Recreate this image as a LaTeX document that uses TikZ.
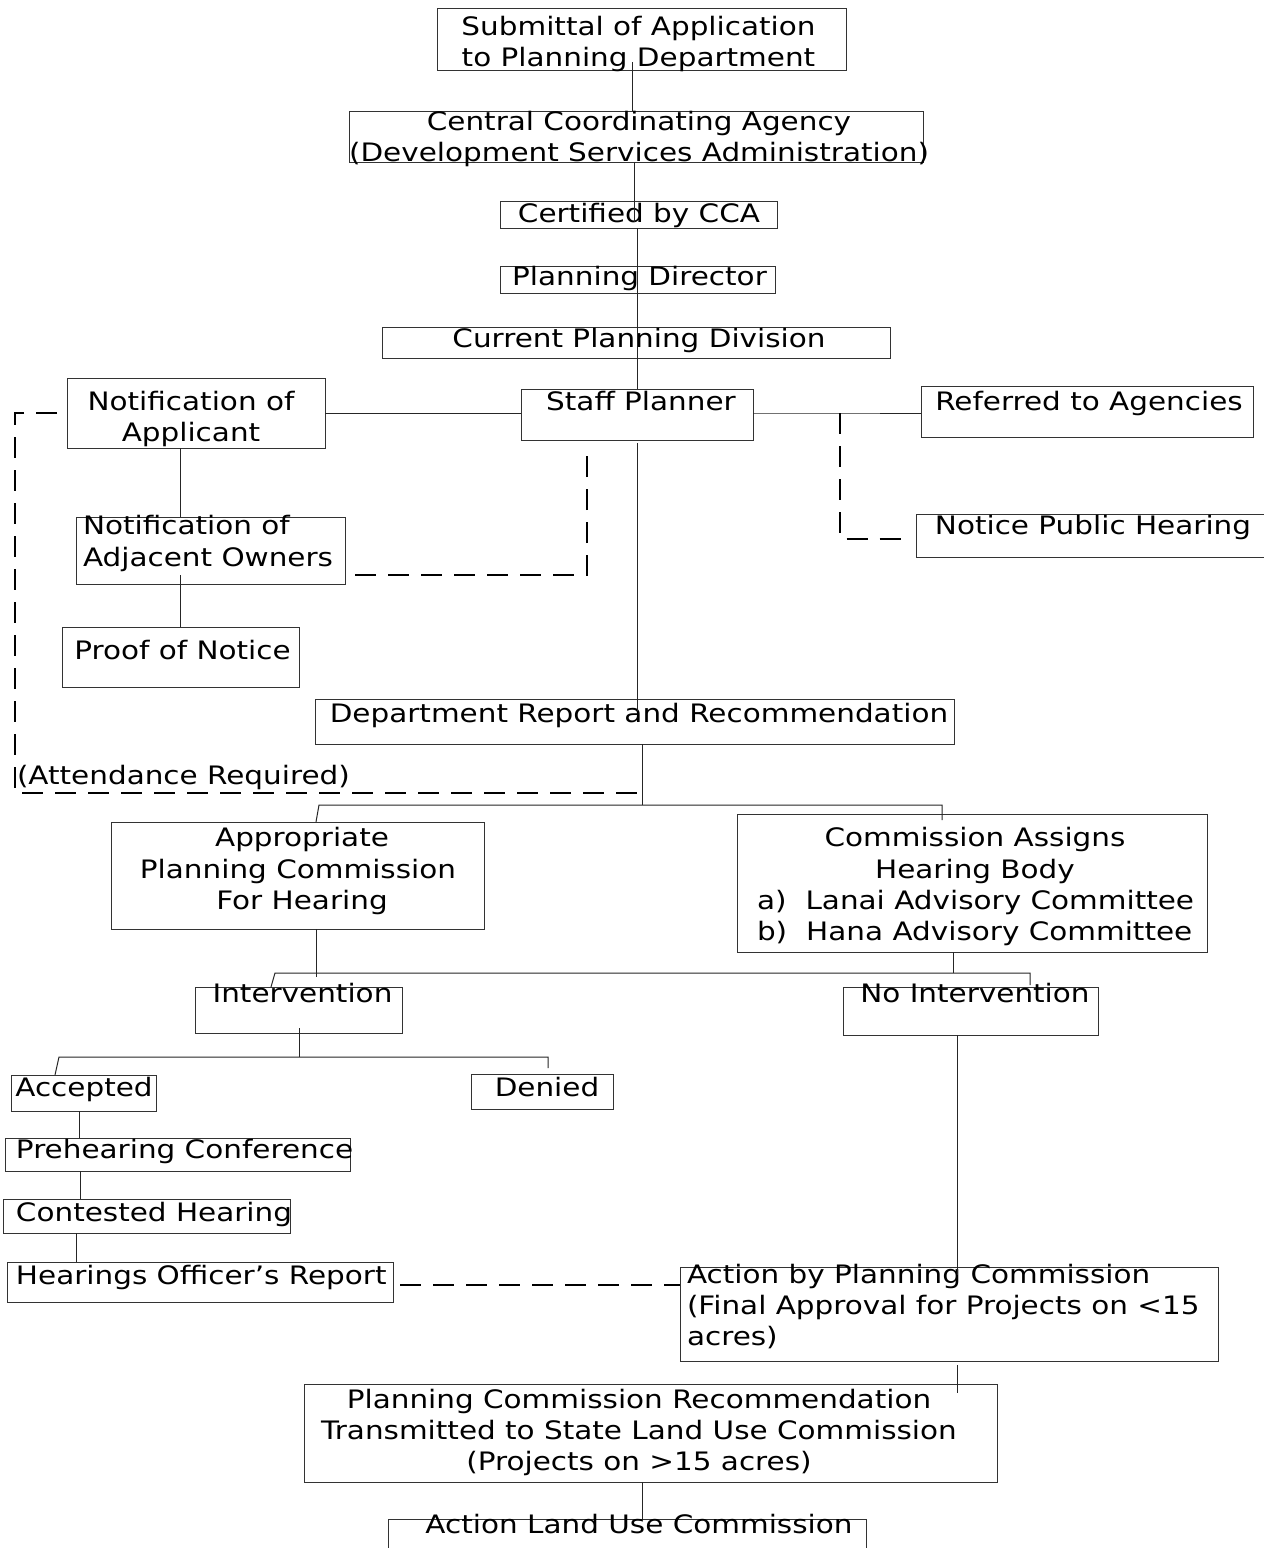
\documentclass[tikz,border=0pt]{standalone}
\usepackage{fontspec}
\setmainfont{DejaVu Sans}[FakeStretch=1.16]
\begin{document}
\begin{tikzpicture}[x=1pt,y=-1pt,
  box/.style={draw=black!80, line width=1pt, rectangle, inner sep=0pt, outer sep=0pt},
  lbl/.style={inner sep=0pt, outer sep=0pt, anchor=base, font=\fontsize{25.4}{31}\selectfont},
  lbll/.style={lbl, anchor=base west},
  con/.style={draw=black!85, line width=1pt},
  dsh/.style={draw=black, line width=2pt, dash pattern=on 21pt off 12pt}]
\clip (0,0) rectangle (1264,1548);
\fill[white] (0,0) rectangle (1264,1548);

% boxes
\node[box, minimum width=409, minimum height=62] (sub) at (641.5,39) {};
\node[box, minimum width=574, minimum height=51] (cca) at (636,136.5) {};
\node[box, minimum width=277, minimum height=27] (cert) at (638.5,214.5) {};
\node[box, minimum width=275, minimum height=27] (dir) at (637.5,279.5) {};
\node[box, minimum width=508, minimum height=31] (cpd) at (636,342.5) {};
\node[box, minimum width=232, minimum height=51] (staff) at (637,414.5) {};
\node[box, minimum width=258, minimum height=70] (noa) at (196,413) {};
\node[box, minimum width=332, minimum height=51] (ref) at (1087,411.5) {};
\node[box, minimum width=354, minimum height=43] (nph) at (1093,535.5) {};
\node[box, minimum width=269, minimum height=67] (adj) at (210.5,550.5) {};
\node[box, minimum width=237, minimum height=60] (proof) at (180.5,657) {};
\node[box, minimum width=639, minimum height=45] (dept) at (634.5,721.5) {};
\node[box, minimum width=373, minimum height=107] (apc) at (297.5,875.5) {};
\node[box, minimum width=470, minimum height=138] (cahb) at (972,883) {};
\node[box, minimum width=207, minimum height=46] (int) at (298.5,1010) {};
\node[box, minimum width=255, minimum height=48] (noint) at (970.5,1011) {};
\node[box, minimum width=145, minimum height=36] (acc) at (83.5,1093) {};
\node[box, minimum width=142, minimum height=35] (den) at (542,1091.5) {};
\node[box, minimum width=345, minimum height=33] (pre) at (177.5,1154.5) {};
\node[box, minimum width=287, minimum height=34] (con) at (146.5,1216) {};
\node[box, minimum width=386, minimum height=40] (hor) at (200,1282) {};
\node[box, minimum width=538, minimum height=94] (apcm) at (949,1314) {};
\node[box, minimum width=693, minimum height=98] (pcr) at (650.5,1433) {};
\node[box, minimum width=478, minimum height=51] (aluc) at (627,1544.5) {};

% texts
\node[lbl] (tsub1) at (638.5,35) {Submittal of Application};
\node[lbl] (tsub2) at (638.5,66) {to Planning Department};
\node[lbl] (tcca1) at (639,130) {Central Coordinating Agency};
\node[lbl] (tcca2) at (639,161) {(Development Services Administration)};
\node[lbl] (tcert) at (639,222) {Certified by CCA};
\node[lbl] (tdir) at (639.5,285) {Planning Director};
\node[lbl] (tcpd) at (639,347) {Current Planning Division};
\node[lbl] (tstaff) at (641,410) {Staff Planner};
\node[lbl] (tnoa1) at (191,410) {Notification of};
\node[lbl] (tnoa2) at (191,441) {Applicant};
\node[lbl] (tref) at (1089,410) {Referred to Agencies};
\node[lbl] (tnph) at (1093,534) {Notice Public Hearing};
\node[lbll] (tadj1) at (83,534) {Notification of};
\node[lbll] (tadj2) at (83,566) {Adjacent Owners};
\node[lbl] (tproof) at (182.5,659) {Proof of Notice};
\node[lbl] (tdept) at (639,722) {Department Report and Recommendation};
\node[lbll] (tatt) at (17,784) {(Attendance Required)};
\node[lbl] (tapc1) at (302,846) {Appropriate};
\node[lbl] (tapc2) at (298,878) {Planning Commission};
\node[lbl] (tapc3) at (302,909) {For Hearing};
\node[lbl] (tcahb1) at (975,846) {Commission Assigns};
\node[lbl] (tcahb2) at (975,878) {Hearing Body};
\node[lbll] (tcahb3) at (757,909) {a)\hspace{19pt}Lanai Advisory Committee};
\node[lbll] (tcahb4) at (757,940) {b)\hspace{19pt}Hana Advisory Committee};
\node[lbl] (tint) at (302.5,1002) {Intervention};
\node[lbl] (tnoint) at (975,1002) {No Intervention};
\node[lbl] (tacc) at (84,1096) {Accepted};
\node[lbl] (tden) at (547,1096) {Denied};
\node[lbll] (tpre) at (16,1158) {Prehearing Conference};
\node[lbll] (tcon) at (16,1221) {Contested Hearing};
\node[lbll] (thor) at (16,1284) {Hearings Officer’s Report};
\node[lbll] (tapcm1) at (687,1283) {Action by Planning Commission};
\node[lbll] (tapcm2) at (687,1314) {(Final Approval for Projects on <15};
\node[lbll] (tapcm3) at (687,1345) {acres)};
\node[lbl] (tpcr1) at (639,1408) {Planning Commission Recommendation};
\node[lbl] (tpcr2) at (639,1439) {Transmitted to State Land Use Commission};
\node[lbl] (tpcr3) at (639,1470) {(Projects on >15 acres)};
\node[lbl] (taluc) at (639,1533) {Action Land Use Commission};

% junction coordinates
\coordinate (b1) at (642,805);
\coordinate (b2) at (316,973);
\coordinate (b3) at (299,1057);
\coordinate (att) at (642,793);
\coordinate (attL) at (15,793);
\coordinate (rj) at (840,413);
\coordinate (dh) at (400,1285);

% solid connectors
\draw[con] ([yshift=8pt]632,0 |- sub.south) -- (632,0 |- cca.north);
\draw[con] (634,0 |- cca.south) -- ([yshift=6pt]634,0 |- cert.south);
\draw[con] (637,0 |- cert.south) -- (637,0 |- staff.north);
\draw[con] ([yshift=-3pt]637,0 |- staff.south) -- ([yshift=-12pt]637,0 |- dept.north);
\draw[con] (642,0 |- dept.south) -- (b1);
\draw[con] (316,0 |- apc.north) -- (319,0 |- b1) -- (942,0 |- b1) -- ([yshift=-6pt]942,0 |- cahb.north);
\draw[con] (noa.east) -- (noa.east -| staff.west);
\draw[con] (180,0 |- noa.south) -- (180,0 |- adj.north);
\draw[con] ([yshift=9pt]180,0 |- adj.south) -- (180,0 |- proof.north);
\draw[con] (753,413) -- (rj) -- (rj -| ref.west);
\draw[con] (316,0 |- apc.south) -- ([yshift=-4pt]b2);
\draw[con] (271,0 |- int.north) -- (275,0 |- b2) -- (1030,0 |- b2) -- ([yshift=2pt]1030,0 |- noint.north);
\draw[con] (953,0 |- cahb.south) -- (953,0 |- b2);
\draw[con] ([yshift=5pt]299,0 |- int.south) -- (b3);
\draw[con] (55,0 |- acc.north) -- (59,0 |- b3) -- (548,0 |- b3) -- ([yshift=6pt]548,0 |- den.north);
\draw[con] (79,0 |- acc.south) -- (79,0 |- pre.north);
\draw[con] (80,0 |- pre.south) -- (80,0 |- con.north);
\draw[con] (76,0 |- con.south) -- (76,0 |- hor.north);
\draw[con] (957,0 |- noint.south) -- ([yshift=-8pt]957,0 |- apcm.north);
\draw[con] ([yshift=-4pt]957,0 |- apcm.south) -- ([yshift=-9pt]957,0 |- pcr.north);
\draw[con] (642,0 |- pcr.south) -- (642,0 |- aluc.north);

% dashed connectors
\draw[dsh] ([xshift=-10pt]noa.west) -| (attL) -- (att);
\draw[dsh] ([shift={(10,-9)}]adj.south east) -| ([yshift=-8pt]587,0 |- staff.south);
\draw[dsh] (rj) |- ([xshift=-4pt,yshift=-3pt]nph.west);
\draw[dsh] (dh) -- (dh -| apcm.west);
\end{tikzpicture}
\end{document}
